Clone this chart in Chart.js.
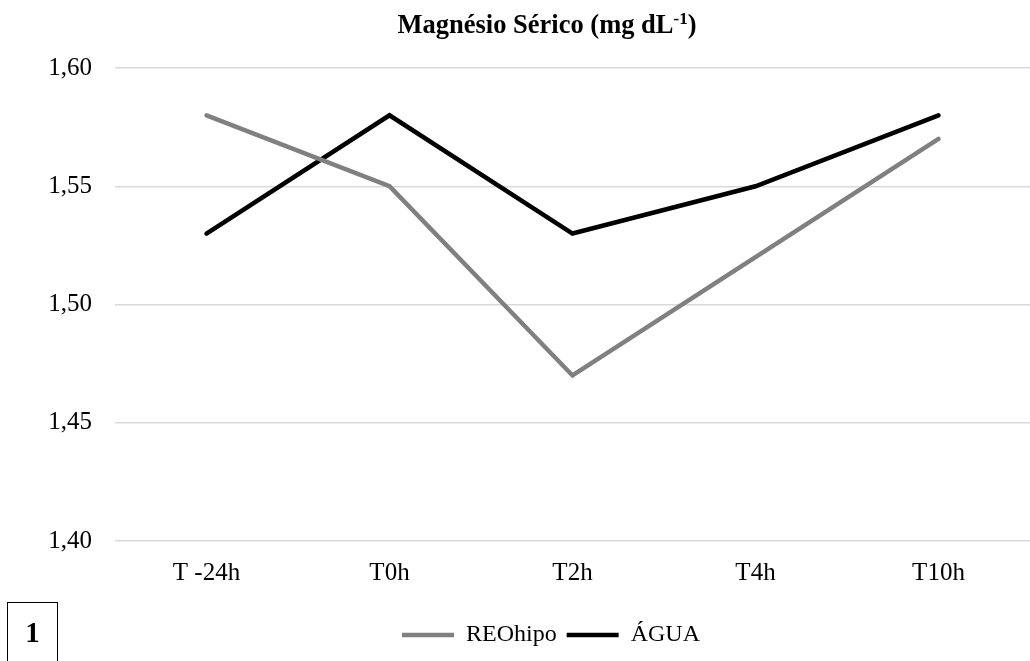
<!DOCTYPE html>
<html><head><meta charset="utf-8">
<script src="https://cdn.jsdelivr.net/npm/chart.js@4"></script>
<style>
html,body{margin:0;padding:0;background:#fff;}
#wrap{position:relative;width:1030px;height:661px;overflow:hidden;}
#title{position:absolute;left:0;width:1094px;top:9px;line-height:30px;text-align:center;font-family:"Liberation Serif",serif;font-weight:bold;font-size:26.5px;color:#000;white-space:nowrap;}
#title sup{font-size:17px;line-height:0;vertical-align:9px;}
#box{position:absolute;left:7px;top:602px;width:51px;height:70px;border:1.5px solid #000;box-sizing:border-box;font-family:"Liberation Serif",serif;font-weight:bold;font-size:29px;line-height:32px;text-align:center;padding-top:13px;}
canvas{position:absolute;left:0;top:0;}
</style></head>
<body><div id="wrap"><canvas id="c" width="1030" height="661"></canvas>
<div id="title">Magnésio Sérico (mg dL<sup>-1</sup>)</div>
<div id="box">1</div></div>
<script>
const categories = ["T -24h","T0h","T2h","T4h","T10h"];
const reohipo = [1.58,1.55,1.47,1.52,1.57];
const agua = [1.53,1.58,1.53,1.55,1.58];
const seriesNames = ["REOhipo","ÁGUA"];
const yTicks = [1.40,1.45,1.50,1.55,1.60];

const legendShift = {
  id:'legendShift',
  afterLayout(chart){
    const lg = chart.legend;
    if(lg){ const d = 551 - (lg.left+lg.right)/2; lg.left += d; lg.right += d; }
  }
};

new Chart(document.getElementById('c'), {
  type:'line',
  data:{labels:categories,datasets:[
    {label:seriesNames[0],data:reohipo,borderColor:'#808080',backgroundColor:'#808080',borderWidth:4.5,pointRadius:0,pointStyle:'line',borderCapStyle:'round',tension:0},
    {label:seriesNames[1],data:agua,borderColor:'#000000',backgroundColor:'#000000',borderWidth:4.5,pointRadius:0,pointStyle:'line',borderCapStyle:'round',tension:0}
  ]},
  plugins:[legendShift],
  options:{
    responsive:false,animation:false,
    layout:{padding:{top:68,right:0,bottom:4,left:0}},
    plugins:{
      legend:{position:'bottom',labels:{usePointStyle:true,pointStyleWidth:52,color:'#000',font:{family:'Liberation Serif',size:24},padding:10,boxHeight:20}},
      title:{display:false},tooltip:{enabled:false}
    },
    scales:{
      x:{offset:true,grid:{display:false,drawTicks:false},border:{display:false},
         ticks:{color:'#000',font:{family:'Liberation Serif',size:25},padding:17,maxRotation:0},
         afterFit(s){s.height=72;}},
      y:{min:1.40,max:1.60,
         afterBuildTicks(s){s.ticks=yTicks.map(v=>({value:v}));},
         grid:{color:'#d9d9d9',lineWidth:1.5,drawTicks:false},border:{display:false},
         ticks:{color:'#000',font:{family:'Liberation Serif',size:25},padding:23,
           callback:v=>v.toFixed(2).replace('.',',')},
         afterFit(s){s.width=115;}}
    }
  }
});
</script></body></html>
